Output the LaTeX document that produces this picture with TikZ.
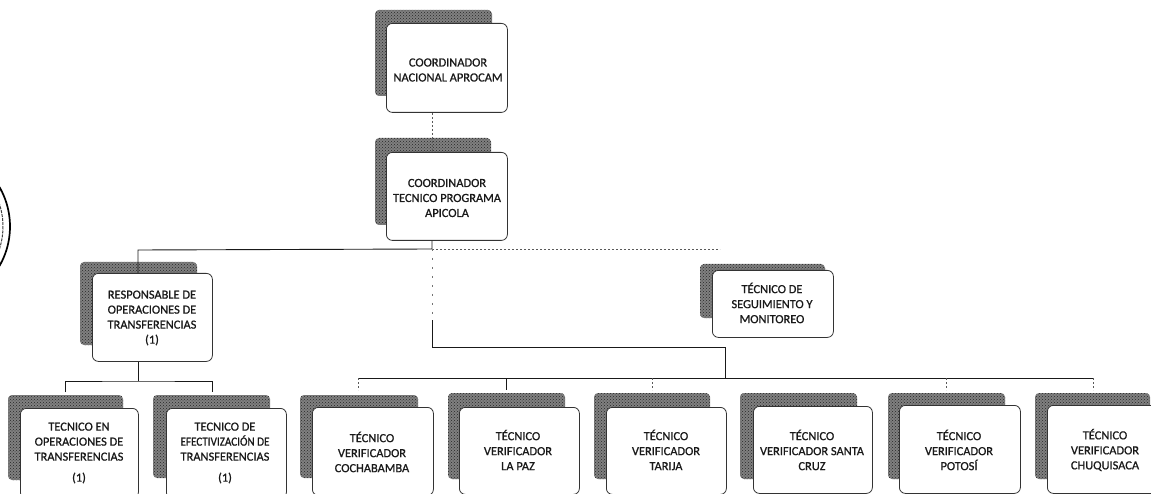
\documentclass[tikz,border=0pt]{standalone}
\usepackage{fontspec}
\setmainfont{Carlito}[RawFeature={embolden=0.8}]
\usetikzlibrary{calc,patterns}
\tikzset{
  x=1pt,y=-1pt,
  box/.style={draw=black!80,fill=white,line width=.8pt,rounded corners=6pt,anchor=north west,inner sep=0pt},
  lbl/.style={font=\fontsize{12.4}{15}\selectfont,align=center,text=black!90,inner sep=0pt},
  shadebase/.style={fill=black!50,rounded corners=4pt},
  shadetex/.style={pattern=crosshatch dots,pattern color=black!85,rounded corners=4pt},
  wire/.style={draw=black!90,line width=.9pt},
  faint/.style={draw=black!65,line width=.7pt,dash pattern=on 2pt off 2pt},
  sparse/.style={draw=black!55,line width=.7pt,dash pattern=on 2pt off 7pt},
  stampa/.style={draw=black,line width=1.7pt},
  stampb/.style={draw=black!75,line width=1pt,dash pattern=on 3pt off 1pt},
}
\newcommand{\orgbox}[9]{%
  \fill[shadebase] (#3,#4) rectangle (#5,#6);
  \fill[shadetex] (#3,#4) rectangle (#5,#6);
  \node[box,minimum width=#8 pt-#2 pt,minimum height=#9 pt] (#1) at (#2,#7) {};
}
\begin{document}
\begin{tikzpicture}
\useasboundingbox (0,0) rectangle (1151,494);
\clip (0,0) rectangle (1151,494);
% stamp
\draw[stampa] (-69,226.5) circle[radius=79];
\draw[stampb] (-69,226.5) circle[radius=72];
% connector junctions
\coordinate (jA) at (432,249);
\coordinate (jL) at (138,250);
\coordinate (jR) at (720,249);
\coordinate (jS) at (432,320);
\coordinate (jM) at (432,347);
\coordinate (jN) at (725,347);
\coordinate (jBus) at (725,378);
\coordinate (jT) at (138,381);
\coordinate (t1d) at (65,392);
\coordinate (t2d) at (212,392);
\coordinate (v1d) at (358,390);
\coordinate (v2d) at (506,390);
\coordinate (v3d) at (652,390);
\coordinate (v5d) at (946,390);
\coordinate (v6d) at (1093,390);
% boxes
\orgbox{a}{386}{375}{10}{492}{96}{23}{507}{89}
\orgbox{b}{386}{375}{138}{491}{225}{152}{507}{88}
\orgbox{r}{92}{80}{262}{197}{345}{273}{212}{88}
\orgbox{s}{712}{700}{264}{825}{318}{270}{833}{67}
\orgbox{t1}{20}{8}{395}{123}{480}{408}{138}{90}
\orgbox{t2}{166}{153}{395}{270}{478}{408}{286}{90}
\orgbox{v1}{312}{300}{395}{418}{478}{407}{433}{88}
\orgbox{v2}{459}{448}{393}{565}{479}{407}{579}{87}
\orgbox{v3}{606}{594}{393}{710}{479}{407}{726}{87}
\orgbox{v4}{753}{740}{393}{857}{479}{406}{872}{87}
\orgbox{v5}{899}{888}{393}{1005}{479}{405}{1020}{88}
\orgbox{v6}{1047}{1035}{393}{1150}{479}{405}{1170}{88}
% labels
\node[lbl] (la) at (448,70) {COORDINADOR\\NACIONAL APROCAM};
\node[lbl] (lb) at (447,198) {COORDINADOR\\TECNICO PROGRAMA\\APICOLA};
\node[lbl] (lr) at (152,318) {RESPONSABLE DE\\OPERACIONES DE\\TRANSFERENCIAS\\(1)};
\node[lbl] (ls) at (772,303) {TÉCNICO DE\\SEGUIMIENTO Y\\MONITOREO};
\node[lbl] (lt1) at (79,453) {TECNICO EN\\OPERACIONES DE\\TRANSFERENCIAS\\[6pt](1)};
\node[lbl] (lt2) at (225,453) {TECNICO DE\\\scalebox{0.9}[1]{EFECTIVIZACIÓN DE}\\TRANSFERENCIAS\\[6pt](1)};
\node[lbl] (l1) at (372,452) {TÉCNICO\\VERIFICADOR\\COCHABAMBA};
\node[lbl] (l2) at (518,450) {TÉCNICO\\VERIFICADOR\\LA PAZ};
\node[lbl] (l3) at (666,450) {TÉCNICO\\VERIFICADOR\\TARIJA};
\node[lbl] (l4) at (812,450) {TÉCNICO\\VERIFICADOR SANTA\\CRUZ};
\node[lbl] (l5) at (959,450) {TÉCNICO\\VERIFICADOR\\POTOSÍ};
\node[lbl] (l6) at (1105,450) {TÉCNICO\\VERIFICADOR\\CHUQUISACA};
% connectors
\draw[faint] (a.south -| jA) -- (b.north -| jA);
\draw[wire] (b.south -| jA) -- (jA) -- (jL) -- (r.north -| jL);
\draw[faint] (jA) -- (jR);
\draw[sparse] (jA) -- (jS);
\draw[wire] (jS) -- (jM) -- (jN) -- (jBus);
\draw[wire] (r.south -| jT) -- (jT);
\draw[wire] (t1d) |- (jT) -| (t2d);
\draw[wire] (jBus) -- (v6d |- jBus);
\draw[wire] (v1d |- jBus) -- (jBus);
\draw[faint] (v1d |- jBus) -- (v1d);
\draw[wire] (v2d |- jBus) -- (v2d);
\draw[faint] (v3d |- jBus) -- (v3d);
\draw[faint] (v5d |- jBus) -- (v5d);
\draw[faint] (v6d |- jBus) -- (v6d);
\end{tikzpicture}
\end{document}
